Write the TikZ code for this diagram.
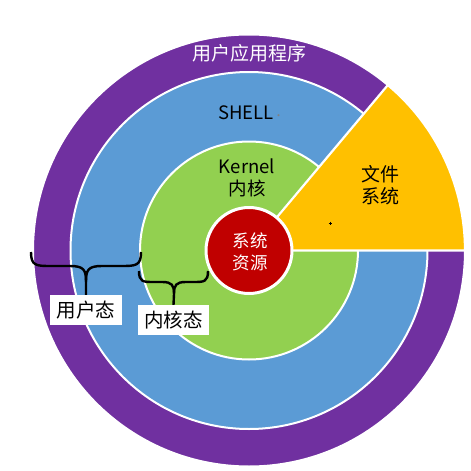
\documentclass[tikz,border=0pt]{standalone}
\usepackage{fontspec}
\setmainfont{Noto Sans CJK SC}
\definecolor{appc}{HTML}{7030A0}
\definecolor{shellc}{HTML}{5B9BD5}
\definecolor{kernc}{HTML}{92D050}
\definecolor{resc}{HTML}{C00000}
\definecolor{fsc}{HTML}{FFC000}
\begin{document}
\begin{tikzpicture}[x=1pt,y=-1pt,
  ring/.style={circle, draw=white, line width=2pt, inner sep=0pt},
  txt/.style={inner sep=0pt, font=\fontsize{19pt}{22pt}\selectfont},
  lbl/.style={fill=white, inner sep=0pt, minimum width=72pt, minimum height=30pt, font=\fontsize{19.5pt}{22pt}\selectfont},
  bracec/.style={draw=black, line width=2.4pt}]
\useasboundingbox (0,0) rectangle (471,471);
\coordinate (c) at (249,250.5);
\node[ring, fill=appc, minimum size=432pt] (app) at (c) {};
\node[ring, fill=shellc, minimum size=357pt] (shell) at (c) {};
\node[ring, fill=kernc, minimum size=218pt] (kern) at (c) {};
\fill[fsc, draw=white, line width=2.2pt] (c) -- ++(0:216) arc[start angle=0, end angle=-50, radius=216] -- cycle;
\node[ring, fill=resc, line width=3pt, minimum size=86pt] (res) at (c) {};
% texts
\node[txt, text=white] (tapp) at (249,53) {用户应用程序};
\node[txt, font=\fontsize{18.5pt}{22pt}\selectfont] (tshell) at (251,113) {SHELL{\color{gray}\fontsize{10pt}{10pt}\selectfont·}};
\node[txt, font=\fontsize{18.5pt}{20pt}\selectfont] (tk1) at (247,166) {Kernel};
\node[txt, font=\fontsize{18.5pt}{20pt}\selectfont] (tk2) at (247,188) {内核};
\node[txt] (tf1) at (380,174) {文件};
\node[txt] (tf2) at (380,196) {系统};
\node[txt, text=white, font=\fontsize{17.5pt}{20pt}\selectfont] (tr1) at (250,241) {系统};
\node[txt, text=white, font=\fontsize{17.5pt}{20pt}\selectfont] (tr2) at (250,263) {资源};
\draw[line width=0.5pt] (328.5,223) -- (331.5,223) (330,221.5) -- (330,224.5);
% labels
\node[lbl] (ustate) at (86,310) {用户态};
\node[lbl, minimum width=71pt] (kstate) at (173.5,320) {内核态};
% braces
\coordinate (b1l) at (31,252);
\coordinate (b1r) at (141,252);
\draw[bracec] (b1l) .. controls (31,266) and (36,266) .. (52,266) -- (70,266) .. controls (84,266) and (86,270) .. (86,282) -- (ustate.north);
\draw[bracec] (b1r) .. controls (141,266) and (136,266) .. (120,266) -- (102,266) .. controls (88,266) and (86,270) .. (86,282);
\coordinate (b2l) at (139,271);
\coordinate (b2r) at (208,271);
\draw[bracec] (b2l) .. controls (139,282) and (143,282) .. (154,282) -- (162,282) .. controls (172,282) and (174,285) .. (174,294) -- (kstate.north);
\draw[bracec] (b2r) .. controls (208,282) and (204,282) .. (193,282) -- (186,282) .. controls (176,282) and (174,285) .. (174,294);
\end{tikzpicture}
\end{document}
